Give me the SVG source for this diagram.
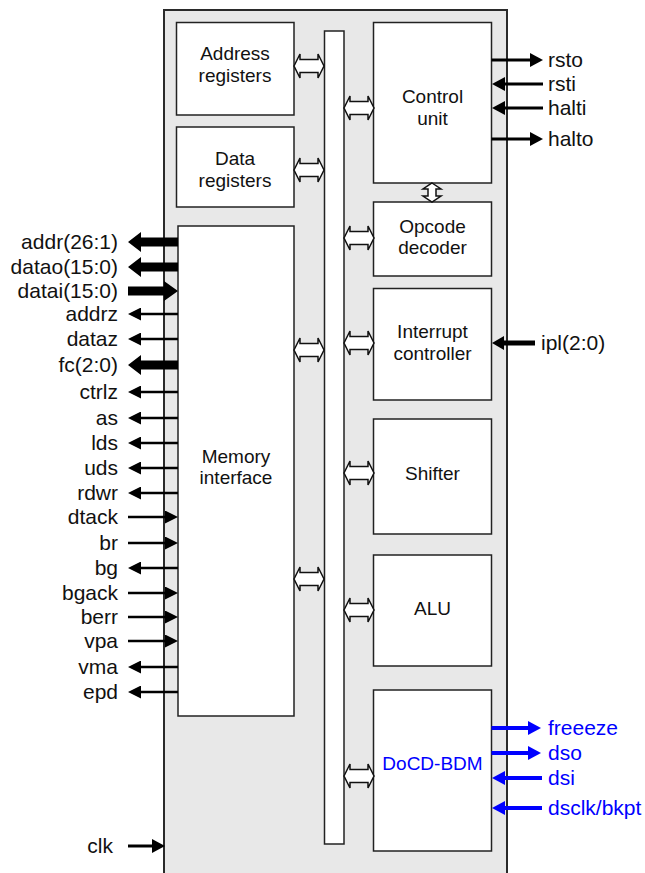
<svg xmlns="http://www.w3.org/2000/svg" width="645" height="873" viewBox="0 0 645 873">
<style>
.bg{fill:#e8e8e8;stroke:#2a2a2a;stroke-width:2}
.box{fill:#fff;stroke:#222;stroke-width:1.5}
.lbl{font-family:"Liberation Sans",Arial,sans-serif;font-size:19px;fill:#111;text-anchor:middle}
.sig{font-family:"Liberation Sans",Arial,sans-serif;font-size:21px;fill:#111}
.l{text-anchor:end}
.blue{fill:#0000ff}
.dar{fill:#fff;stroke:#111;stroke-width:1.5;stroke-linejoin:miter}
.w{stroke:#000;stroke-width:2.5;fill:none}
.r{stroke:#000;stroke-width:3;fill:none}
.ipl{stroke:#000;stroke-width:5;fill:none}
.b{stroke:#0000ff;stroke-width:4;fill:none}
.bus{fill:#000}
</style>
<defs>
<marker id="ah" markerUnits="userSpaceOnUse" markerWidth="13" markerHeight="13" refX="3" refY="6.5" orient="auto"><path d="M0,0 L13,6.5 L0,13 Z" fill="#000"/></marker>
<marker id="ahr" markerUnits="userSpaceOnUse" markerWidth="14" markerHeight="14" refX="3" refY="7" orient="auto"><path d="M0,0 L13,7 L0,14 Z" fill="#000"/></marker>
<marker id="ahi" markerUnits="userSpaceOnUse" markerWidth="14" markerHeight="14" refX="3" refY="7" orient="auto"><path d="M0,0 L12,7 L0,14 Z" fill="#000"/></marker>
<marker id="ahb" markerUnits="userSpaceOnUse" markerWidth="14" markerHeight="14" refX="3" refY="7" orient="auto"><path d="M0,0 L13,7 L0,14 Z" fill="#0000ff"/></marker>
<path id="dh" d="M0,0 L6,-12 L6,-6.5 L24,-6.5 L24,-12 L30,0 L24,12 L24,6.5 L6,6.5 L6,12 Z"/>
</defs>

<g id="cpu">
<rect class="bg" x="164" y="10" width="343" height="880"/>
</g>

<g id="bus">
<rect class="box" x="324.5" y="31" width="19.5" height="813"/>
</g>

<g id="address-registers">
<rect class="box" x="176.5" y="22.5" width="117.5" height="92.5"/>
<text class="lbl" x="235" y="60">Address</text>
<text class="lbl" x="235" y="82">registers</text>
</g>

<g id="data-registers">
<rect class="box" x="176.5" y="127" width="117.5" height="80"/>
<text class="lbl" x="235" y="165">Data</text>
<text class="lbl" x="235" y="187">registers</text>
</g>

<g id="memory-interface">
<rect class="box" x="178" y="226" width="116" height="490"/>
<text class="lbl" x="236" y="463">Memory</text>
<text class="lbl" x="236" y="484">interface</text>
</g>

<g id="control-unit">
<rect class="box" x="373.5" y="22.5" width="118" height="160.5"/>
<text class="lbl" x="432.5" y="103">Control</text>
<text class="lbl" x="432.5" y="125">unit</text>
</g>

<g id="opcode-decoder">
<rect class="box" x="373.5" y="202" width="118" height="74"/>
<text class="lbl" x="432.5" y="233">Opcode</text>
<text class="lbl" x="432.5" y="254">decoder</text>
</g>

<g id="interrupt-controller">
<rect class="box" x="373.5" y="288.5" width="118" height="111.5"/>
<text class="lbl" x="432.5" y="338">Interrupt</text>
<text class="lbl" x="432.5" y="360">controller</text>
</g>

<g id="shifter">
<rect class="box" x="373.5" y="419" width="118" height="115"/>
<text class="lbl" x="432.5" y="480">Shifter</text>
</g>

<g id="alu">
<rect class="box" x="373.5" y="555" width="118" height="111"/>
<text class="lbl" x="432.5" y="615">ALU</text>
</g>

<g id="docd-bdm">
<rect class="box" x="373.5" y="690" width="118" height="161"/>
<text class="lbl blue" x="432.5" y="770">DoCD-BDM</text>
</g>

<g id="connectors">
<use href="#dh" class="dar" x="294" y="66"/>
<use href="#dh" class="dar" x="294" y="170"/>
<use href="#dh" class="dar" x="294" y="350"/>
<use href="#dh" class="dar" x="294" y="579"/>
<use href="#dh" class="dar" x="344" y="108"/>
<use href="#dh" class="dar" x="344" y="238"/>
<use href="#dh" class="dar" x="344" y="343"/>
<use href="#dh" class="dar" x="344" y="473"/>
<use href="#dh" class="dar" x="344" y="610"/>
<use href="#dh" class="dar" x="344" y="776"/>
<path class="dar" d="M432,183 L441,189 L436,189 L436,196 L441,196 L432,202 L423,196 L428,196 L428,189 L423,189 Z"/>

<polygon class="bus" points="128,242 141,232 141,237.5 178,237.5 178,246.5 141,246.5 141,252"/>
<polygon class="bus" points="128,267 141,257 141,262.5 178,262.5 178,271.5 141,271.5 141,277"/>
<polygon class="bus" points="128,286.5 164,286.5 164,281 178,291 164,301 164,295.5 128,295.5"/>
<polygon class="bus" points="128,365 141,355 141,360.5 178,360.5 178,369.5 141,369.5 141,375"/>

<line class="w" x1="178" y1="314" x2="138" y2="314" marker-end="url(#ah)"/>
<line class="w" x1="178" y1="339" x2="138" y2="339" marker-end="url(#ah)"/>
<line class="w" x1="178" y1="392" x2="138" y2="392" marker-end="url(#ah)"/>
<line class="w" x1="178" y1="418" x2="138" y2="418" marker-end="url(#ah)"/>
<line class="w" x1="178" y1="443" x2="138" y2="443" marker-end="url(#ah)"/>
<line class="w" x1="178" y1="468" x2="138" y2="468" marker-end="url(#ah)"/>
<line class="w" x1="178" y1="493" x2="138" y2="493" marker-end="url(#ah)"/>
<line class="w" x1="128" y1="517" x2="168" y2="517" marker-end="url(#ah)"/>
<line class="w" x1="128" y1="543" x2="168" y2="543" marker-end="url(#ah)"/>
<line class="w" x1="178" y1="568" x2="138" y2="568" marker-end="url(#ah)"/>
<line class="w" x1="128" y1="593" x2="168" y2="593" marker-end="url(#ah)"/>
<line class="w" x1="128" y1="617" x2="168" y2="617" marker-end="url(#ah)"/>
<line class="w" x1="128" y1="641" x2="168" y2="641" marker-end="url(#ah)"/>
<line class="w" x1="178" y1="667" x2="138" y2="667" marker-end="url(#ah)"/>
<line class="w" x1="178" y1="692" x2="138" y2="692" marker-end="url(#ah)"/>
<line class="r" x1="128" y1="846" x2="155" y2="846" marker-end="url(#ahr)"/>

<line class="r" x1="491.5" y1="60" x2="533" y2="60" marker-end="url(#ahr)"/>
<line class="r" x1="543" y1="84" x2="502" y2="84" marker-end="url(#ahr)"/>
<line class="r" x1="543" y1="108" x2="502" y2="108" marker-end="url(#ahr)"/>
<line class="r" x1="491.5" y1="139" x2="533" y2="139" marker-end="url(#ahr)"/>
<line class="ipl" x1="535" y1="343" x2="501" y2="343" marker-end="url(#ahi)"/>

<line class="b" x1="491.5" y1="728" x2="531" y2="728" marker-end="url(#ahb)"/>
<line class="b" x1="491.5" y1="753" x2="531" y2="753" marker-end="url(#ahb)"/>
<line class="b" x1="542" y1="778" x2="502" y2="778" marker-end="url(#ahb)"/>
<line class="b" x1="542" y1="808" x2="502" y2="808" marker-end="url(#ahb)"/>
</g>

<g id="signal-labels">
<text class="sig l" x="118" y="249">addr(26:1)</text>
<text class="sig l" x="118" y="274">datao(15:0)</text>
<text class="sig l" x="118" y="298">datai(15:0)</text>
<text class="sig l" x="118" y="321">addrz</text>
<text class="sig l" x="118" y="346">dataz</text>
<text class="sig l" x="118" y="372">fc(2:0)</text>
<text class="sig l" x="118" y="399">ctrlz</text>
<text class="sig l" x="118" y="425">as</text>
<text class="sig l" x="118" y="450">lds</text>
<text class="sig l" x="118" y="475">uds</text>
<text class="sig l" x="118" y="500">rdwr</text>
<text class="sig l" x="118" y="524">dtack</text>
<text class="sig l" x="118" y="550">br</text>
<text class="sig l" x="118" y="575">bg</text>
<text class="sig l" x="118" y="600">bgack</text>
<text class="sig l" x="118" y="624">berr</text>
<text class="sig l" x="118" y="648">vpa</text>
<text class="sig l" x="118" y="674">vma</text>
<text class="sig l" x="118" y="699">epd</text>
<text class="sig l" x="113" y="853">clk</text>
<text class="sig" x="548" y="67">rsto</text>
<text class="sig" x="548" y="91">rsti</text>
<text class="sig" x="548" y="115">halti</text>
<text class="sig" x="548" y="146">halto</text>
<text class="sig" x="541" y="350">ipl(2:0)</text>
<text class="sig blue" x="548" y="735">freeeze</text>
<text class="sig blue" x="548" y="760">dso</text>
<text class="sig blue" x="548" y="785">dsi</text>
<text class="sig blue" x="548" y="815">dsclk/bkpt</text>
</g>
</svg>
